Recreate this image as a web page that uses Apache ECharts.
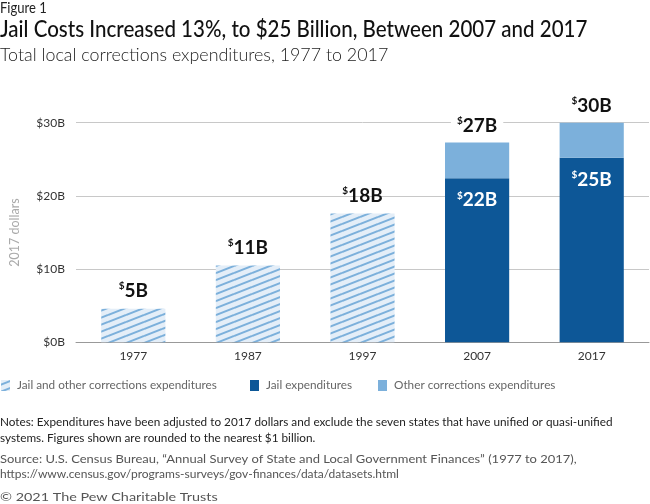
<!DOCTYPE html>
<html><head><meta charset="utf-8">
<script src="https://cdn.jsdelivr.net/npm/echarts@6/dist/echarts.min.js"></script>
<style>html,body{margin:0;padding:0;background:#fff}#c{width:650px;height:504px}</style>
</head><body><div id="c"></div>
<script>
const categories = ['1977','1987','1997','2007','2017'];
const combined = [4.6, 10.5, 17.6, null, null];
const jail = [null, null, null, 22.4, 25.2];
const other = [null, null, null, 4.9, 4.8];
const yTicks = [0, 10, 20, 30];
const legendNames = ['Jail and other corrections expenditures', 'Jail expenditures', 'Other corrections expenditures'];

const DARK = '#0d5797', LIGHT = '#7cb0db';
function hatch(){
  const w = 18, h = 7;
  const c = document.createElement('canvas'); c.width = w; c.height = h;
  const g = c.getContext('2d');
  g.fillStyle = '#e4eef8'; g.fillRect(0,0,w,h);
  g.strokeStyle = LIGHT; g.lineWidth = 2;
  for (let k=-1;k<=1;k++){ g.beginPath(); g.moveTo(0, h + k*h); g.lineTo(w, k*h); g.stroke(); }
  return c;
}
const pat = {image: hatch(), repeat: 'repeat'};
const F = 'Lato, "Open Sans", sans-serif';
const rich = (col) => ({
  s: {fontSize: 10, fontWeight: 'bold', color: col, verticalAlign: 'top', lineHeight: 12, fontFamily: F},
  v: {fontSize: 19, fontWeight: 'bold', color: col, lineHeight: 20, fontFamily: F}
});
function txt(x, y, text, font, fill, sx, lh){
  return {type: 'text', x: x, y: y, scaleX: sx, silent: true,
    style: {text: text, font: font, fill: fill, lineHeight: lh || undefined}};
}
const legendX = [1, 250, 378];
const legendFills = [pat, DARK, LIGHT];
const legendGraphics = [];
legendNames.forEach((n, i) => {
  legendGraphics.push({type: 'rect', shape: {x: legendX[i], y: 380, width: 9, height: 11}, style: {fill: legendFills[i]}, silent: true});
  legendGraphics.push({type: 'text', x: legendX[i] + 16, y: 385.5, scaleX: 0.98, silent: true,
    style: {text: n, font: '12px ' + F, fill: '#666', verticalAlign: 'middle'}});
});

const chart = echarts.init(document.getElementById('c'), null, {renderer: 'canvas'});
chart.setOption({
  animation: false,
  textStyle: {fontFamily: F},
  grid: {left: 71, right: 1, top: 122.7, bottom: 161.7},
  xAxis: {
    type: 'category', data: categories,
    axisLine: {lineStyle: {color: '#999'}}, axisTick: {show: false},
    axisLabel: {color: '#333', fontSize: 12, margin: 8}
  },
  yAxis: {
    type: 'value', min: yTicks[0], max: yTicks[yTicks.length-1], interval: 10,
    name: '2017 dollars', nameLocation: 'middle', nameGap: 55,
    nameTextStyle: {color: '#aaa', fontSize: 12.5},
    axisLine: {show: false}, axisTick: {show: false},
    axisLabel: {color: '#333', fontSize: 12, margin: 11, formatter: v => '$' + v + 'B'},
    splitLine: {lineStyle: {color: '#c8c8c8', width: 1}}
  },
  series: [
    {name: legendNames[0], type: 'bar', stack: 't', barWidth: '56%',
     data: combined, itemStyle: {color: pat},
     label: {show: true, position: 'top', distance: 8,
       formatter: p => '{s|$}{v|' + Math.round(p.value) + 'B}', rich: rich('#111')}},
    {name: legendNames[1], type: 'bar', stack: 't', barWidth: '56%',
     data: jail, itemStyle: {color: DARK},
     label: {show: true, position: 'insideTop', distance: 12,
       formatter: p => '{s|$}{v|' + Math.round(p.value) + 'B}', rich: rich('#fff')}},
    {name: legendNames[2], type: 'bar', stack: 't', barWidth: '56%',
     data: other, itemStyle: {color: LIGHT},
     label: {show: true, position: 'top', distance: 6, backgroundColor: '#fff', padding: [1, 6],
       formatter: p => '{s|$}{v|' + Math.round(jail[p.dataIndex] + p.value) + 'B}', rich: rich('#111')}}
  ],
  graphic: [
    txt(0, 1, 'Figure 1', '14.5px ' + F, '#222', 0.9),
    txt(0, 18, 'Jail Costs Increased 13%, to $25 Billion, Between 2007 and 2017', '500 23px ' + F, '#111', 0.893),
    txt(0, 46, 'Total local corrections expenditures, 1977 to 2017', '300 18.5px ' + F, '#222', 0.965),
    txt(0, 414, 'Notes: Expenditures have been adjusted to 2017 dollars and exclude the seven states that have unified or quasi-unified\nsystems. Figures shown are rounded to the nearest $1 billion.', '12px ' + F, '#222', 0.98, 16),
    txt(0, 453, 'Source: U.S. Census Bureau, \u201cAnnual Survey of State and Local Government Finances\u201d (1977 to 2017),', '12px ' + F, '#555', 1.08),
    txt(0, 468, 'https://www.census.gov/programs-surveys/gov-finances/data/datasets.html', '12px ' + F, '#555', 1.0),
    txt(0, 491, '\u00a9 2021 The Pew Charitable Trusts', '12px ' + F, '#555', 1.2)
  ].concat(legendGraphics)
});
</script></body></html>
